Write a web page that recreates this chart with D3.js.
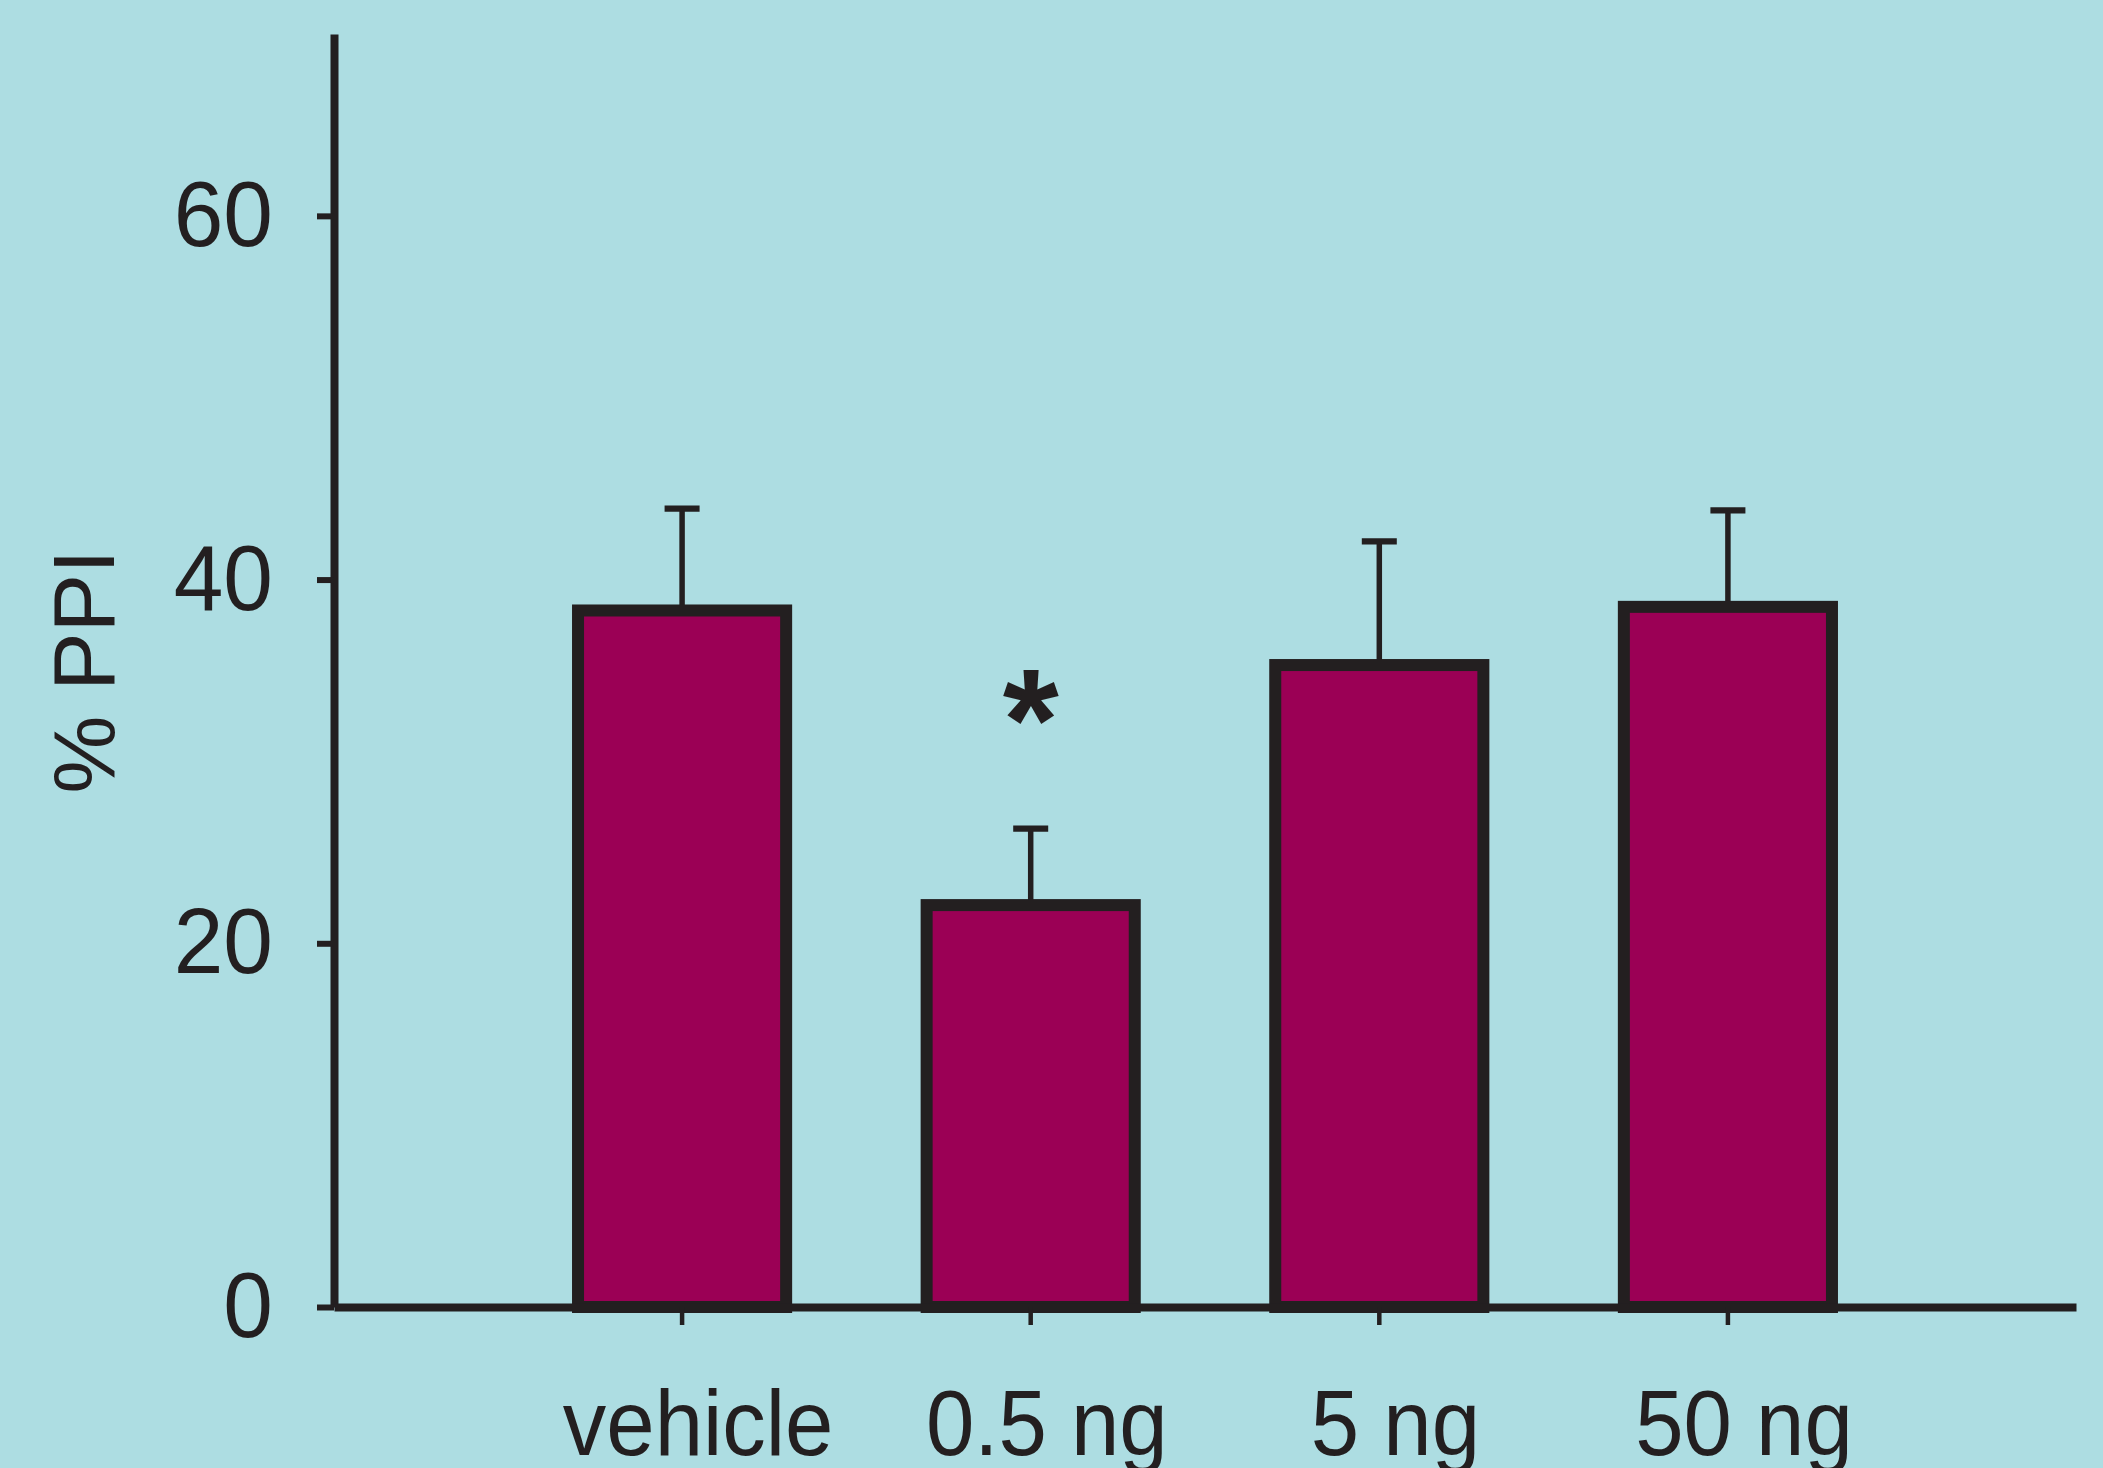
<!DOCTYPE html>
<html>
<head>
<meta charset="utf-8">
<script src="https://d3js.org/d3.v7.min.js"></script>
<style>
  body { margin: 0; background: #addde2; }
  svg { display: block; }
  text { font-family: "Liberation Sans", Arial, sans-serif; fill: #231f20; }
</style>
</head>
<body>
<script>
// data
const groups = ["vehicle", "0.5 ng", "5 ng", "50 ng"]
const ppiMean = [38.3, 22.1, 35.3, 38.5]
const ppiSem = [5.6, 4.2, 6.8, 5.3]
const signif = ["", "*", "", ""]
const yTicks = [0, 20, 40, 60]
const yMax = 70

// constants
const width = 2103
const height = 1468
const margin = {top: 34, right: 27, bottom: 161, left: 334}
const ink = "#231f20"
const barFill = "#9b0055"

const svg = d3.select("body").append("svg")
    .attr("width", width)
    .attr("height", height)

svg.append("rect")
    .attr("width", width)
    .attr("height", height)
    .attr("fill", "#addde2")

const data = groups.map((g, i) => ({group: g, mean: ppiMean[i], sem: ppiSem[i], sig: signif[i]}))

// scales
const xScale = d3.scaleBand()
    .domain(groups)
    .range([margin.left, width - margin.right])
    .paddingInner(0.403)
    .paddingOuter(0.70)

const yScale = d3.scaleLinear()
    .domain([0, yMax])
    .range([height - margin.bottom, margin.top])

const xc = d => xScale(d.group) + xScale.bandwidth() / 2

// error bars (drawn first so the bar outline sits on top)
const eb = svg.append("g")
eb.selectAll("line.stem").data(data)
  .enter().append("line")
    .attr("class", "stem")
    .attr("x1", xc).attr("x2", xc)
    .attr("y1", d => yScale(d.mean))
    .attr("y2", d => yScale(d.mean + d.sem))
    .attr("stroke", ink)
    .attr("stroke-width", 5.5)
eb.selectAll("line.cap").data(data)
  .enter().append("line")
    .attr("class", "cap")
    .attr("x1", d => xc(d) - 17.5).attr("x2", d => xc(d) + 17.5)
    .attr("y1", d => yScale(d.mean + d.sem))
    .attr("y2", d => yScale(d.mean + d.sem))
    .attr("stroke", ink)
    .attr("stroke-width", 6.3)

// bars
svg.append("g").selectAll("rect").data(data)
  .enter().append("rect")
    .attr("x", d => xScale(d.group))
    .attr("width", xScale.bandwidth())
    .attr("y", d => yScale(d.mean))
    .attr("height", d => yScale(0) - yScale(d.mean))
    .attr("fill", barFill)
    .attr("stroke", ink)
    .attr("stroke-width", 12)

// significance star
svg.append("g").selectAll("text").data(data.filter(d => d.sig))
  .enter().append("text")
    .attr("x", xc)
    .attr("y", d => yScale(d.mean + d.sem) - 59)
    .attr("text-anchor", "middle")
    .style("font-size", "144px")
    .style("font-weight", "bold")
    .text(d => d.sig)

// y axis
const yAxisG = svg.append("g")
    .attr("transform", `translate(${margin.left},0)`)
    .call(d3.axisLeft(yScale).tickValues(yTicks).tickFormat(d3.format("d"))
        .tickSize(17).tickSizeOuter(0).tickPadding(46))
yAxisG.select(".domain").attr("stroke", ink).attr("stroke-width", 8)
yAxisG.selectAll(".tick line").attr("stroke", ink).attr("stroke-width", 6)
yAxisG.selectAll(".tick text")
    .attr("fill", ink)
    .attr("transform", "scale(0.97,1)")
    .style("font-size", "92px")
    .style("font-family", "'Liberation Sans', Arial, sans-serif")

// x axis
const xAxisG = svg.append("g")
    .attr("transform", `translate(0,${yScale(0)})`)
    .call(d3.axisBottom(xScale).tickSize(18).tickSizeOuter(0).tickPadding(65))
xAxisG.select(".domain").attr("stroke", ink).attr("stroke-width", 8)
xAxisG.selectAll(".tick line").attr("stroke", ink).attr("stroke-width", 4.5)
xAxisG.selectAll(".tick text")
    .attr("fill", ink)
    .attr("dx", 17)
    .attr("transform", "scale(0.945,1)")
    .style("font-size", "92px")
    .style("font-family", "'Liberation Sans', Arial, sans-serif")

// y axis label
svg.append("text")
    .attr("transform", `translate(114,${(yScale(0) + yScale(yMax)) / 2 + 1}) rotate(-90)`)
    .attr("text-anchor", "middle")
    .style("font-size", "88px")
    .text("% PPI")
</script>
</body>
</html>
